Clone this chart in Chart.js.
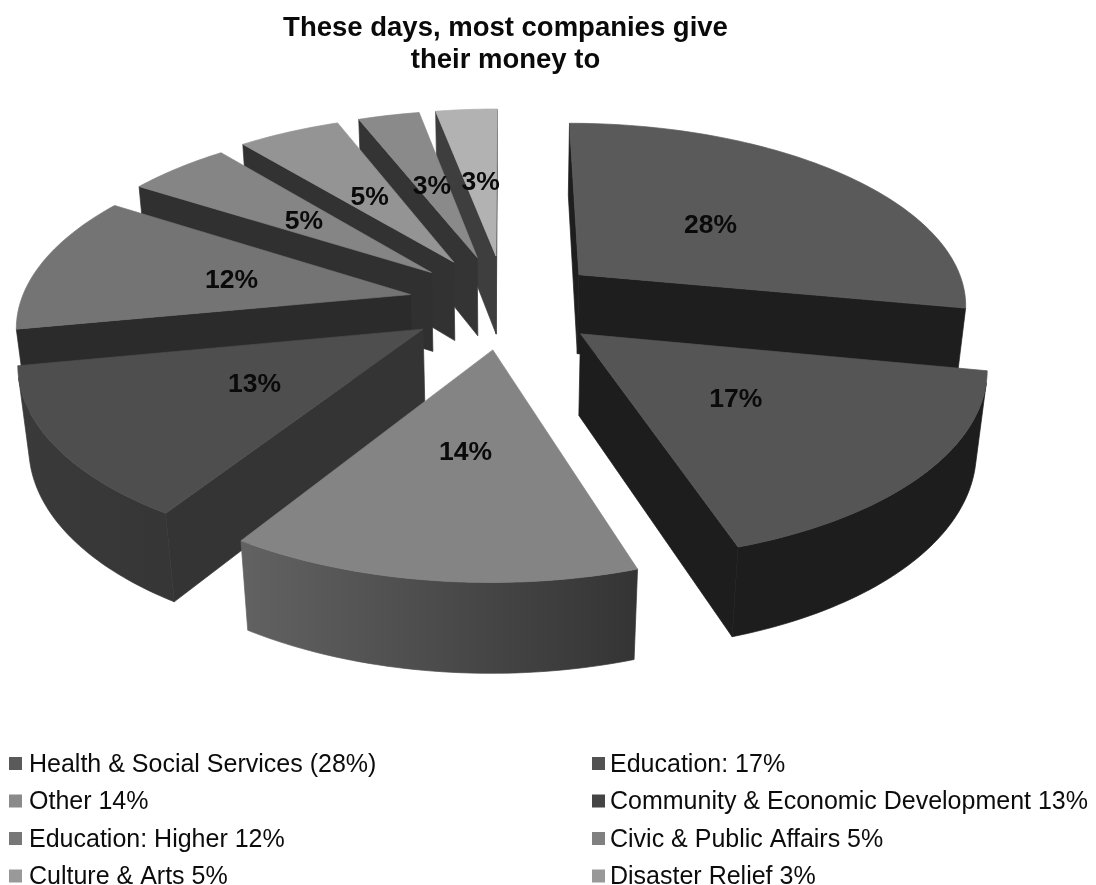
<!DOCTYPE html>
<html>
<head>
<meta charset="utf-8">
<script src="https://cdn.jsdelivr.net/npm/chart.js@4"></script>
<style>
  html, body { margin: 0; padding: 0; background: #fff; }
  canvas { display: block; }
</style>
</head>
<body>
<canvas id="giving" width="1096" height="885"></canvas>
<script>
// Corporate giving by sector
const titleLines = ['These days, most companies give', 'their money to'];
const categories = [
  'Health & Social Services (28%)', 'Education: 17%', 'Other 14%',
  'Community & Economic Development 13%', 'Education: Higher 12%',
  'Civic & Public Affairs 5%', 'Culture & Arts 5%', 'Disaster Relief 3%', ''
];
const shares = [28, 17, 14, 13, 12, 5, 5, 3, 3];
const pullOut = [50, 50, 50, 50, 50, 52, 54, 54, 54];

// Face colours for each slice
const topColours   = ['#5a5a5a', '#555555', '#848484', '#4e4e4e', '#747474', '#858585', '#949494', '#8a8a8a', '#b2b2b2'];
const wallColours  = ['#1e1e1e', '#1d1d1d', '#343434', '#343434', '#2b2b2b', '#303030', '#323232', '#343434', '#3e3e3e'];
const rimLeft      = ['#1e1e1e', '#1d1d1d', '#626262', '#3a3a3a', '#2b2b2b', '#303030', '#323232', '#343434', '#3e3e3e'];
const rimRight     = ['#1e1e1e', '#1d1d1d', '#343434', '#363636', '#2b2b2b', '#303030', '#323232', '#343434', '#3e3e3e'];
const swatchColours = ['#5a5a5a', '#525252', '#8a8a8a', '#444444', '#777777', '#808080', '#999999', '#999999'];

// Projection of the pie plane: camera above and in front of the pie
const view = { cx: 505.5, cy: 303, sx: 390, sy: 182, tilt: 0.15, depth: 82, sink: 0.022 };

function project(u, v, z) {
  const w = 1 - view.tilt * v + view.sink * z;
  return { x: view.cx + view.sx * u / w, y: view.cy + (view.sy * v + view.depth * z) / w };
}

function tracePolygon(ctx, pts) {
  ctx.beginPath();
  pts.forEach((p, i) => i ? ctx.lineTo(p.x, p.y) : ctx.moveTo(p.x, p.y));
  ctx.closePath();
}

function signedArea(pts) {
  let s = 0;
  pts.forEach((p, i) => {
    const q = pts[(i + 1) % pts.length];
    s += p.x * q.y - q.x * p.y;
  });
  return s;
}

function fillFace(ctx, pts, paint) {
  tracePolygon(ctx, pts);
  ctx.fillStyle = paint;
  ctx.strokeStyle = paint;
  ctx.lineWidth = 0.7;
  ctx.fill();
  ctx.stroke();
}

// Reads the arcs laid out by the pie controller and draws them as solid wedges
const solidPie = {
  id: 'solidPie',
  beforeDatasetsDraw(chart) {
    const ctx = chart.ctx;
    const arcs = chart.getDatasetMeta(0).data.map((arc, index) => {
      const R = arc.outerRadius;
      const mid = (arc.startAngle + arc.endAngle) / 2;
      const off = arc.options.offset / R;
      return {
        index, start: arc.startAngle, end: arc.endAngle, mid,
        ou: Math.cos(mid) * off, ov: Math.sin(mid) * off
      };
    });
    const at = (a, angle, rad, z) =>
      project(a.ou + Math.cos(angle) * rad, a.ov + Math.sin(angle) * rad, z);

    ctx.save();
    ctx.lineJoin = 'round';
    [...arcs].sort((p, q) => Math.sin(p.mid) - Math.sin(q.mid)).forEach(a => {
      const steps = Math.max(6, Math.ceil((a.end - a.start) / 0.02));
      const angles = [];
      for (let i = 0; i <= steps; i++) angles.push(a.start + (a.end - a.start) * i / steps);
      const rimTop = angles.map(t => at(a, t, 1, 0));
      const rimLow = angles.map(t => at(a, t, 1, 1));
      const apexTop = at(a, 0, 0, 0), apexLow = at(a, 0, 0, 1);
      const wall = wallColours[a.index];

      // Radial walls, kept only when they face the camera
      const startWall = [apexTop, rimTop[0], rimLow[0], apexLow];
      const endWall = [rimTop[steps], apexTop, apexLow, rimLow[steps]];
      if (signedArea(startWall) < 0) fillFace(ctx, startWall, wall);
      if (signedArea(endWall) < 0) fillFace(ctx, endWall, wall);

      // Curved outer wall: one shape per run of camera-facing segments
      const xs = rimTop.map(p => p.x);
      const shade = ctx.createLinearGradient(Math.min(...xs), 0, Math.max(...xs), 0);
      shade.addColorStop(0, rimLeft[a.index]);
      shade.addColorStop(1, rimRight[a.index]);
      let runStart = -1;
      for (let i = 0; i <= steps; i++) {
        const facing = i < steps &&
          signedArea([rimTop[i], rimTop[i + 1], rimLow[i + 1], rimLow[i]]) < 0;
        if (facing && runStart < 0) runStart = i;
        if (!facing && runStart >= 0) {
          const upper = rimTop.slice(runStart, i + 1);
          const lower = rimLow.slice(runStart, i + 1).reverse();
          fillFace(ctx, [...upper, ...lower], shade);
          runStart = -1;
        }
      }

      // Top face
      fillFace(ctx, [apexTop, ...rimTop], topColours[a.index]);
    });

    // Percentage labels just inside halfway along each wedge
    ctx.fillStyle = '#0a0a0a';
    ctx.font = 'bold 26.5px "Liberation Sans", Arial, sans-serif';
    ctx.textAlign = 'center';
    ctx.textBaseline = 'middle';
    arcs.forEach(a => {
      const p = at(a, a.mid, 0.48, 0);
      ctx.fillText(shares[a.index] + '%', p.x, p.y + 2);
    });
    ctx.restore();
    return false;
  },
  afterDraw(chart) {
    // Two-column key below the pie
    const ctx = chart.ctx;
    const named = categories.filter(Boolean);
    ctx.save();
    ctx.font = '25px "Liberation Sans", Arial, sans-serif';
    ctx.textAlign = 'left';
    ctx.textBaseline = 'middle';
    named.forEach((name, i) => {
      const col = i % 2, row = (i - col) / 2;
      const y = 763 + row * 37.5;
      const x = col ? 592 : 9;
      ctx.fillStyle = swatchColours[i];
      ctx.fillRect(x, y - 6, 13, 13);
      ctx.fillStyle = '#0c0c0c';
      ctx.fillText(name, x + (col ? 18 : 20), y + 2);
    });
    ctx.restore();
  }
};

new Chart(document.getElementById('giving'), {
  type: 'pie',
  data: {
    labels: categories,
    datasets: [{
      data: shares,
      backgroundColor: topColours,
      borderWidth: 0,
      offset: pullOut,
      radius: 200
    }]
  },
  options: {
    responsive: false,
    animation: false,
    layout: { padding: { right: 85 } },
    plugins: {
      legend: { display: false },
      tooltip: { enabled: false },
      title: {
        display: true,
        fullSize: false,
        text: titleLines,
        color: '#0a0a0a',
        font: { family: '"Liberation Sans", Arial, sans-serif', size: 27.5, weight: 'bold', lineHeight: 1.17 },
        padding: { top: 12, bottom: 6 }
      }
    }
  },
  plugins: [solidPie]
});
</script>
</body>
</html>
